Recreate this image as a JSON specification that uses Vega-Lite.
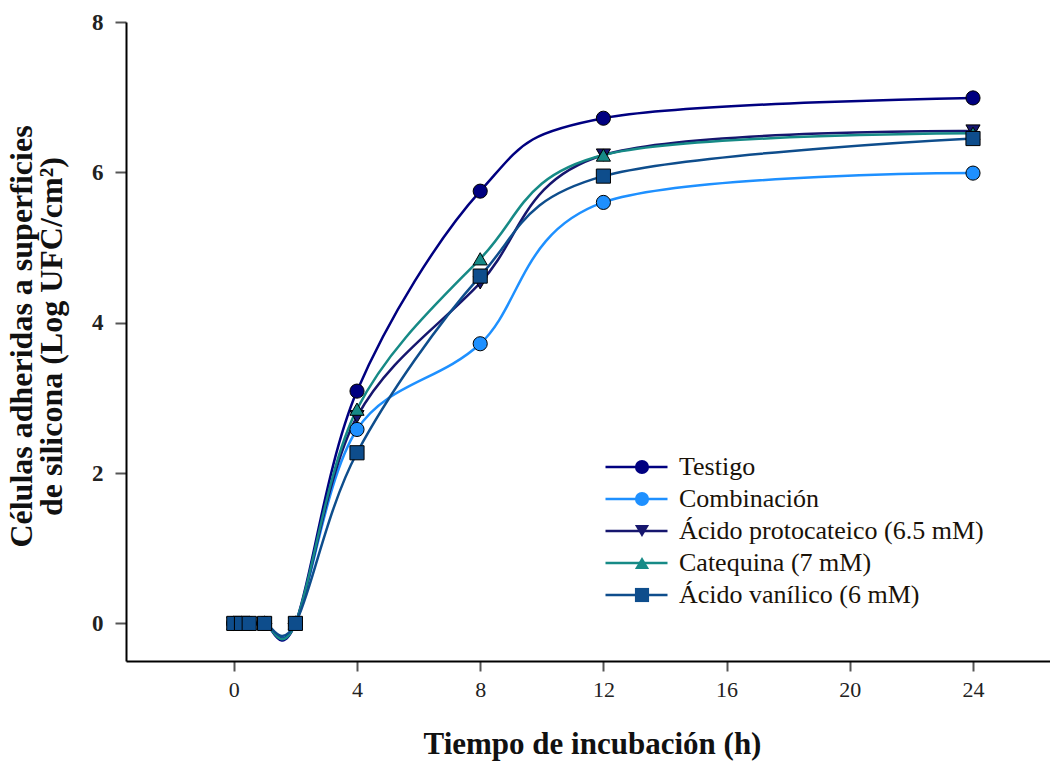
{
  "$schema": "https://vega.github.io/schema/vega-lite/v6.json",
  "width": 924,
  "height": 639,
  "autosize": {"type": "none"},
  "padding": {"left": 126, "top": 22, "right": 0, "bottom": 100},
  "background": "white",
  "config": {"view": {"stroke": null}},
  "data": {"values": [
    {"serie": "Testigo", "t": 0, "v": 0},
    {"serie": "Testigo", "t": 0.25, "v": 0},
    {"serie": "Testigo", "t": 0.5, "v": 0},
    {"serie": "Testigo", "t": 1, "v": 0},
    {"serie": "Testigo", "t": 2, "v": 0},
    {"serie": "Testigo", "t": 4, "v": 3.09},
    {"serie": "Testigo", "t": 8, "v": 5.75},
    {"serie": "Testigo", "t": 12, "v": 6.72},
    {"serie": "Testigo", "t": 24, "v": 6.99},
    {"serie": "Combinación", "t": 0, "v": 0},
    {"serie": "Combinación", "t": 0.25, "v": 0},
    {"serie": "Combinación", "t": 0.5, "v": 0},
    {"serie": "Combinación", "t": 1, "v": 0},
    {"serie": "Combinación", "t": 2, "v": 0},
    {"serie": "Combinación", "t": 4, "v": 2.58},
    {"serie": "Combinación", "t": 8, "v": 3.72},
    {"serie": "Combinación", "t": 12, "v": 5.6},
    {"serie": "Combinación", "t": 24, "v": 5.99},
    {"serie": "Ácido protocateico (6.5 mM)", "t": 0, "v": 0},
    {"serie": "Ácido protocateico (6.5 mM)", "t": 0.25, "v": 0},
    {"serie": "Ácido protocateico (6.5 mM)", "t": 0.5, "v": 0},
    {"serie": "Ácido protocateico (6.5 mM)", "t": 1, "v": 0},
    {"serie": "Ácido protocateico (6.5 mM)", "t": 2, "v": 0},
    {"serie": "Ácido protocateico (6.5 mM)", "t": 4, "v": 2.75},
    {"serie": "Ácido protocateico (6.5 mM)", "t": 8, "v": 4.53},
    {"serie": "Ácido protocateico (6.5 mM)", "t": 12, "v": 6.23},
    {"serie": "Ácido protocateico (6.5 mM)", "t": 24, "v": 6.55},
    {"serie": "Catequina (7 mM)", "t": 0, "v": 0},
    {"serie": "Catequina (7 mM)", "t": 0.25, "v": 0},
    {"serie": "Catequina (7 mM)", "t": 0.5, "v": 0},
    {"serie": "Catequina (7 mM)", "t": 1, "v": 0},
    {"serie": "Catequina (7 mM)", "t": 2, "v": 0},
    {"serie": "Catequina (7 mM)", "t": 4, "v": 2.85},
    {"serie": "Catequina (7 mM)", "t": 8, "v": 4.85},
    {"serie": "Catequina (7 mM)", "t": 12, "v": 6.23},
    {"serie": "Catequina (7 mM)", "t": 24, "v": 6.52},
    {"serie": "Ácido vanílico (6 mM)", "t": 0, "v": 0},
    {"serie": "Ácido vanílico (6 mM)", "t": 0.25, "v": 0},
    {"serie": "Ácido vanílico (6 mM)", "t": 0.5, "v": 0},
    {"serie": "Ácido vanílico (6 mM)", "t": 1, "v": 0},
    {"serie": "Ácido vanílico (6 mM)", "t": 2, "v": 0},
    {"serie": "Ácido vanílico (6 mM)", "t": 4, "v": 2.27},
    {"serie": "Ácido vanílico (6 mM)", "t": 8, "v": 4.62},
    {"serie": "Ácido vanílico (6 mM)", "t": 12, "v": 5.95},
    {"serie": "Ácido vanílico (6 mM)", "t": 24, "v": 6.45}
  ]},
  "encoding": {
    "x": {
      "field": "t", "type": "quantitative",
      "scale": {"domain": [-3.5, 26.5], "nice": false, "zero": false},
      "axis": {
        "values": [0, 4, 8, 12, 16, 20, 24],
        "grid": false,
        "domainColor": "black", "domainWidth": 2,
        "tickColor": "#555555", "tickWidth": 2, "tickSize": 10,
        "labelFont": "Liberation Serif", "labelFontSize": 22, "labelColor": "#222222",
        "labelPadding": 8, "labelFlush": false,
        "title": "Tiempo de incubación (h)",
        "titleFont": "Liberation Serif", "titleFontSize": 31, "titleFontWeight": "bold",
        "titleColor": "#111111",
        "titleX": 466, "titleY": 92, "titleBaseline": "alphabetic", "titleAlign": "center"
      }
    },
    "y": {
      "field": "v", "type": "quantitative",
      "scale": {"domain": [-0.5, 8], "nice": false, "zero": false},
      "axis": {
        "values": [0, 2, 4, 6, 8],
        "grid": false,
        "domainColor": "black", "domainWidth": 2,
        "tickColor": "#555555", "tickWidth": 2, "tickSize": 11,
        "labelFont": "Liberation Serif", "labelFontSize": 23, "labelFontWeight": "bold",
        "labelColor": "#222222", "labelPadding": 12, "labelFlush": false,
        "title": ["Células adheridas a superficies", "de silicona (Log UFC/cm²)"],
        "titleFont": "Liberation Serif", "titleFontSize": 32, "titleFontWeight": "bold",
        "titleColor": "#111111", "titleLineHeight": 30,
        "titleAngle": -90, "titleX": -95, "titleY": 314,
        "titleBaseline": "alphabetic", "titleAlign": "center"
      }
    }
  },
  "layer": [
    {
      "mark": {"type": "line", "interpolate": "cardinal", "strokeWidth": 2.5},
      "encoding": {
        "stroke": {
          "field": "serie", "type": "nominal",
          "sort": ["Testigo", "Combinación", "Ácido protocateico (6.5 mM)", "Catequina (7 mM)", "Ácido vanílico (6 mM)"],
          "scale": {
            "range": ["#000080", "#1e90ff", "#16166e", "#168a86", "#0e4d8c"]
          },
          "legend": {
            "title": null, "orient": "none", "legendX": 478, "legendY": 431,
            "symbolType": "stroke", "symbolSize": 3844, "symbolStrokeWidth": 2.5,
            "clipHeight": 28, "rowPadding": 4, "padding": 0,
            "labelFont": "Liberation Serif", "labelFontSize": 26, "labelColor": "#1a1208",
            "labelOffset": 10, "labelLimit": 500, "zindex": 0
          }
        }
      }
    },
    {
      "mark": {"type": "point", "filled": true, "stroke": "black", "strokeWidth": 1, "size": 200, "opacity": 1},
      "encoding": {
        "fill": {
          "field": "serie", "type": "nominal",
          "scale": {
            "domain": ["Testigo", "Combinación", "Ácido protocateico (6.5 mM)", "Catequina (7 mM)", "Ácido vanílico (6 mM)"],
            "range": ["#000080", "#1e90ff", "#16166e", "#168a86", "#0e4d8c"]
          },
          "legend": {
            "title": null, "orient": "none", "legendX": 503, "legendY": 431,
            "symbolSize": 200, "symbolStrokeColor": "black", "symbolStrokeWidth": 1,
            "clipHeight": 28, "rowPadding": 4, "padding": 0,
            "labelFont": "Liberation Serif", "labelFontSize": 26, "labelExpr": "''",
            "labelLimit": 500, "zindex": 1
          }
        },
        "shape": {
          "field": "serie", "type": "nominal",
          "scale": {
            "domain": ["Testigo", "Combinación", "Ácido protocateico (6.5 mM)", "Catequina (7 mM)", "Ácido vanílico (6 mM)"],
            "range": ["circle", "circle", "triangle-down", "triangle-up", "square"]
          },
          "legend": {
            "title": null, "orient": "none", "legendX": 503, "legendY": 431,
            "symbolSize": 200, "symbolStrokeColor": "black", "symbolStrokeWidth": 1,
            "clipHeight": 28, "rowPadding": 4, "padding": 0,
            "labelFont": "Liberation Serif", "labelFontSize": 26, "labelExpr": "''",
            "labelLimit": 500, "zindex": 1
          }
        }
      }
    }
  ]
}
